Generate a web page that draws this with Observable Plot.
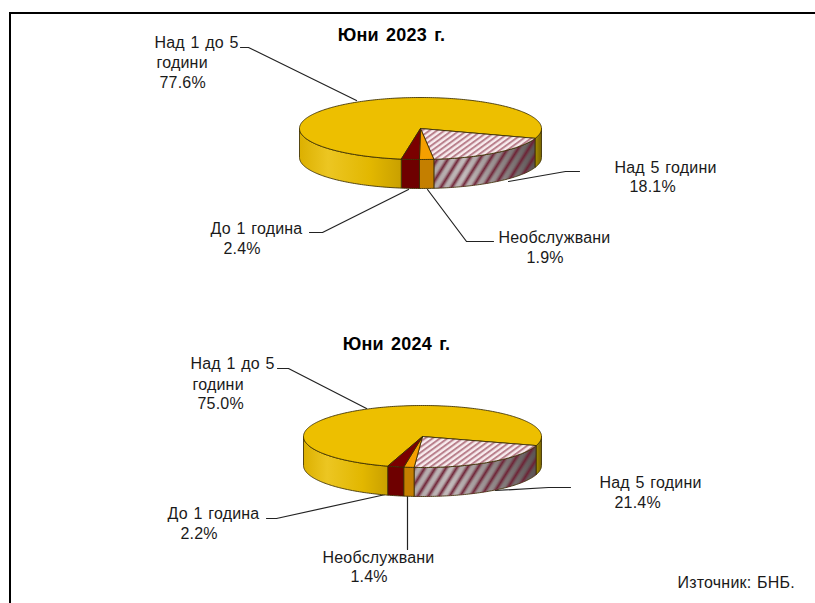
<!DOCTYPE html>
<html><head><meta charset="utf-8">
<script src="https://cdn.jsdelivr.net/npm/d3@7"></script>
<script src="https://cdn.jsdelivr.net/npm/@observablehq/plot@0.6"></script>
<style>html,body{margin:0;padding:0;background:#fff}svg{display:block}</style>
</head><body><div id="chart"></div>
<script>
// ---- data ----
const categories = ["Над 5 години","Необслужвани","До 1 година","Над 1 до 5 години"];
const shares2023 = [18.1,1.9,2.4,77.6];
const shares2024 = [21.4,1.4,2.2,75.0];
const titles = ["Юни 2023 г.","Юни 2024 г."];
const source = "Източник: БНБ.";

// ---- layout (pixels) ----
const pies = [
  {cx:420,cy:128,rx:121,ry:31,depth:29,start:18.5,values:shares2023},
  {cx:422,cy:436,rx:119,ry:31,depth:29,start:17,values:shares2024}
];
const topFill = ["url(#hatchTop)","#f59f00","#7a0000","#edbf00"];
const wallFill = ["url(#wallGray)","#c47f00","#6e0000","url(#wallGold)"];

function arcPts(p,a0,a1,dy=0){
  const n=Math.max(2,Math.ceil(Math.abs(a1-a0)));
  return d3.range(n+1).map(i=>{
    const a=(a0+(a1-a0)*i/n)*Math.PI/180;
    return {x:p.cx+p.rx*Math.cos(a),y:p.cy+p.ry*Math.sin(a)+dy};
  });
}
function sectors(p){
  let a=p.start;
  return p.values.map((v,i)=>{const s={i,a0:a,a1:a+v*3.6};a=s.a1;return s;});
}
const marks=[];
const poly=(pts,fill,extra={})=>Plot.line(pts,{x:"x",y:"y",fill,stroke:"#3a2d00",strokeWidth:1,strokeOpacity:0.85,...extra});

for(const p of pies){
  const secs=sectors(p);
  for(const s of secs){
    const ranges=[];
    const lo=Math.max(s.a0,0),hi=Math.min(s.a1,180);
    if(hi>lo) ranges.push([lo,hi]);
    if(s.a1>360){ranges.push([0,s.a1-360]);}
    for(const [a0,a1] of ranges){
      const pts=[...arcPts(p,a0,a1),...arcPts(p,a1,a0,p.depth)];
      pts.push(pts[0]);
      marks.push(poly(pts,s.i===3&&a0===0?"url(#wallDark)":wallFill[s.i]));
      if(s.i===0) marks.push(poly(pts,"url(#hatchWall)",{stroke:"none"}));
    }
  }
  for(const s of [secs[3],secs[0],secs[1],secs[2]]){
    const pts=[{x:p.cx,y:p.cy},...arcPts(p,s.a0,s.a1),{x:p.cx,y:p.cy}];
    marks.push(poly(pts,topFill[s.i]));
  }
}

// ---- labels ----
const labels=[
 {t:"Над 1 до 5",x:154,y:42},{t:"години",x:156,y:62},{t:"77.6%",x:159,y:82},
 {t:"Над 5 години",x:614,y:167},{t:"18.1%",x:629,y:186},
 {t:"До 1 година",x:210,y:228},{t:"2.4%",x:223,y:248},
 {t:"Необслужвани",x:498,y:237},{t:"1.9%",x:526,y:257},
 {t:"Над 1 до 5",x:190,y:363},{t:"години",x:192,y:384},{t:"75.0%",x:197,y:403},
 {t:"Над 5 години",x:599,y:482},{t:"21.4%",x:614,y:502},
 {t:"До 1 година",x:167,y:513},{t:"2.2%",x:180,y:533},
 {t:"Необслужвани",x:322,y:557},{t:"1.4%",x:350,y:576},
 {t:source,x:677,y:582}
];
const leaders=[
 [[240,47],[248,47],[356,100]],
 [[579,171],[565,171],[508,181]],
 [[309,232],[322,232],[408,189]],
 [[493,241],[466,241],[427,189]],
 [[277,368],[288,368],[366,408]],
 [[570,487],[548,487],[495,490]],
 [[266,518],[276,518],[385,494]],
 [[407,496],[407,549]]
];
const titleRows=[{t:titles[0],x:391,y:35},{t:titles[1],x:396,y:344}];

const chart=Plot.plot({
  width:815,height:603,margin:0,
  x:{domain:[0,815],range:[0,815],axis:null},
  y:{domain:[0,603],range:[0,603],axis:null},
  style:{background:"#fff",fontFamily:"'Liberation Sans',Arial,sans-serif"},
  marks:[
    Plot.ruleY([12.5],{x1:9,x2:815,stroke:"#000",strokeWidth:2}),
    Plot.ruleX([9.5],{y1:12,y2:603,stroke:"#000",strokeWidth:2}),
    ...leaders.map(l=>Plot.line(l.map(([x,y])=>({x,y})),{x:"x",y:"y",stroke:"#222",strokeWidth:1.2})),
    ...marks,
    Plot.text(labels,{x:"x",y:"y",text:"t",textAnchor:"start",fontSize:16,fill:"#1a1a1a"}),
    Plot.text(titleRows,{x:"x",y:"y",text:"t",fontSize:18,fontWeight:"bold",fill:"#000"})
  ]
});
d3.select(chart).selectAll("text").each(function(){
  const bold=this.closest("[font-weight]")||this.getAttribute("font-weight");
  this.style.letterSpacing=bold?"0.2px":"0.2px";
  this.style.wordSpacing=bold?"2px":"1px";
});
const defs=d3.select(chart).insert("defs",":first-child");
const grad=(id,stops)=>{const g=defs.append("linearGradient").attr("id",id).attr("x1","0").attr("x2","1").attr("y1","0").attr("y2","0");
  stops.forEach(([o,c])=>g.append("stop").attr("offset",o).attr("stop-color",c));};
grad("wallGold",[[0,"#dcb000"],[0.28,"#ecc622"],[0.7,"#e2b700"],[1,"#c9a000"]]);
grad("wallGray",[[0,"#b2acac"],[0.3,"#c4bfbf"],[0.7,"#8a8383"],[1,"#5a5555"]]);
grad("wallDark",[[0,"#a88d00"],[1,"#776400"]]);
const softHatch=(id,w,c)=>{
  const g=defs.append("linearGradient").attr("id",id+"S").attr("x1","0").attr("x2","0").attr("y1","0").attr("y2","1");
  [[0,0],[0.2,0.1],[0.5,0.95],[0.8,0.1],[1,0]].forEach(([o,a])=>g.append("stop").attr("offset",o).attr("stop-color",c).attr("stop-opacity",a));
  const pt=defs.append("pattern").attr("id",id).attr("patternUnits","userSpaceOnUse").attr("width",w).attr("height",w).attr("patternTransform","rotate(-58)");
  pt.append("rect").attr("width",w).attr("height",w).attr("fill",`url(#${id}S)`);
};
softHatch("hatchWall",9,"#6d1f33");
const pt=defs.append("pattern").attr("id","hatchTop").attr("patternUnits","userSpaceOnUse").attr("width",4.4).attr("height",4.4).attr("patternTransform","rotate(-36)");
pt.append("rect").attr("width",4.4).attr("height",4.4).attr("fill","#f8ecee");
pt.append("rect").attr("width",4.4).attr("height",2).attr("fill","#b9808c");
document.getElementById("chart").append(chart);
</script></body></html>
